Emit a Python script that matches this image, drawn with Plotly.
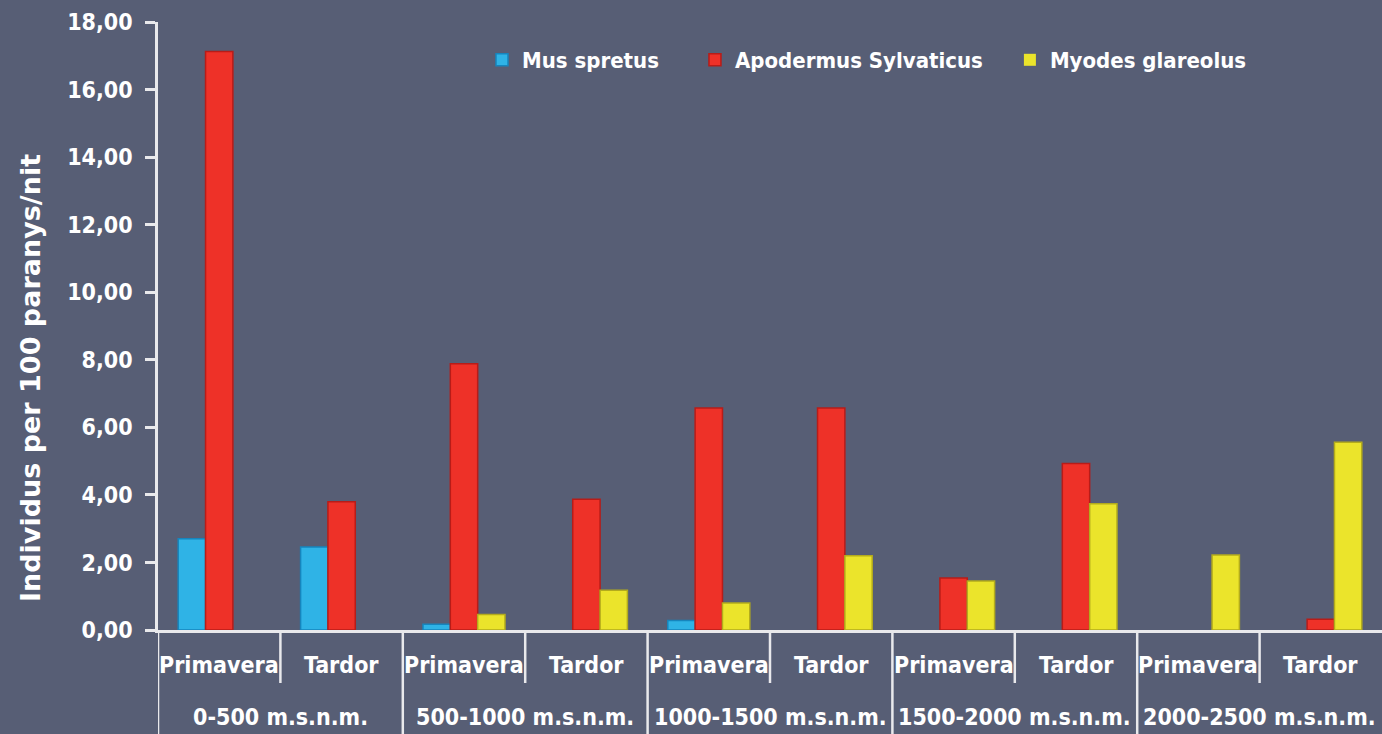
import plotly.graph_objects as go

groups = ["0-500 m.s.n.m.", "500-1000 m.s.n.m.", "1000-1500 m.s.n.m.",
          "1500-2000 m.s.n.m.", "2000-2500 m.s.n.m."]
seasons = ["Primavera", "Tardor"]

# values ordered: group0-Prim, group0-Tardor, group1-Prim, ...
mus_spretus = [2.70, 2.46, 0.17, 0.0, 0.28, 0.0, 0.0, 0.0, 0.0, 0.0]
apodemus = [17.13, 3.80, 7.88, 3.87, 6.57, 6.57, 1.54, 4.93, 0.0, 0.32]
myodes = [0.0, 0.0, 0.46, 1.18, 0.80, 2.20, 1.45, 3.74, 2.22, 5.56]

series_names = ["Mus spretus", "Apodermus Sylvaticus", "Myodes glareolus"]
colors = ["#2fb3e6", "#ee3128", "#ebe42b"]
edge_colors = ["#1685bd", "#b81c18", "#b3ab1c"]
legend_ids = ["legend", "legend2", "legend3"]
legend_x = [0.2647, 0.4387, 0.696]

y_ticks = [0, 2, 4, 6, 8, 10, 12, 14, 16, 18]

cats = [f"{g}|{s}" for g in groups for s in seasons]

BG = "#575e75"
FONT = "DejaVu Sans Condensed, DejaVu Sans"
WHITE = "#ffffff"
LINE = "#e9e9ec"

fig = go.Figure()
for name, vals, c, ec, lg in zip(series_names, [mus_spretus, apodemus, myodes],
                                 colors, edge_colors, legend_ids):
    fig.add_trace(go.Bar(
        x=cats, y=vals, name=name, legend=lg,
        marker=dict(color=c, line=dict(color=ec, width=[0 if v == 0 else 1.5 for v in vals])),
    ))

shapes = []
annotations = []
n = len(cats)
bottom = -104 / 608
inner_bottom = -53 / 608
shapes.append(dict(type="line", xref="x", yref="paper", x0=-0.5, x1=-0.5,
                   y0=0, y1=bottom, line=dict(color=LINE, width=2.5)))
for i in range(n - 1):
    xpos = i + 0.5
    is_group = (i % 2 == 1)
    shapes.append(dict(type="line", xref="x", yref="paper", x0=xpos, x1=xpos,
                       y0=0, y1=bottom if is_group else inner_bottom,
                       line=dict(color=LINE, width=2.5)))
lab_font = dict(family=FONT, size=23, color=WHITE, weight="bold")
for i, c in enumerate(cats):
    annotations.append(dict(x=c, xref="x", y=-35 / 608, yref="paper",
                            text=seasons[i % 2], showarrow=False, font=lab_font,
                            xanchor="center", yanchor="middle"))
for gi, g in enumerate(groups):
    annotations.append(dict(x=gi * 2 + 0.5, xref="x", y=-87 / 608, yref="paper",
                            text=g, showarrow=False, font=lab_font,
                            xanchor="center", yanchor="middle"))
# y-axis title
annotations.append(dict(x=(30 - 158) / 1224, xref="paper", y=(630 - 378) / 608, yref="paper",
                        text="Individus per 100 paranys/nit", textangle=-90, showarrow=False,
                        font=dict(family="DejaVu Sans", size=27, color=WHITE, weight="bold"),
                        xanchor="center", yanchor="middle"))

leg_common = dict(orientation="h", y=0.9375, xanchor="left", yanchor="middle",
                  font=dict(family=FONT, size=22, color=WHITE, weight="bold"),
                  bgcolor="rgba(0,0,0,0)")

fig.update_layout(
    width=1382, height=734,
    margin=dict(l=158, r=0, t=22, b=104),
    paper_bgcolor=BG, plot_bgcolor=BG,
    barmode="group", bargap=0.33, bargroupgap=0,
    separators=",.",
    font=dict(family=FONT, color=WHITE, size=22),
    showlegend=True,
    legend=dict(x=legend_x[0], **leg_common),
    legend2=dict(x=legend_x[1], **leg_common),
    legend3=dict(x=legend_x[2], **leg_common),
    xaxis=dict(showticklabels=False, showgrid=False, zeroline=False,
               showline=True, linecolor=LINE, linewidth=2.5, ticks="",
               range=[-0.5, n - 0.5]),
    yaxis=dict(range=[0, 18], tickvals=y_ticks, tickformat=".2f",
               showgrid=False, zeroline=False, showline=True, linecolor=LINE,
               linewidth=2.5, ticks="outside", ticklen=10, tickwidth=2.5,
               tickcolor=LINE, ticklabelstandoff=8,
               tickfont=dict(family=FONT, size=23, color=WHITE, weight="bold")),
    shapes=shapes,
    annotations=annotations,
)

fig.write_html("out.html", config={"displayModeBar": False},
               post_script="document.body.style.margin='0';document.body.style.padding='0';document.body.style.overflow='hidden';")
